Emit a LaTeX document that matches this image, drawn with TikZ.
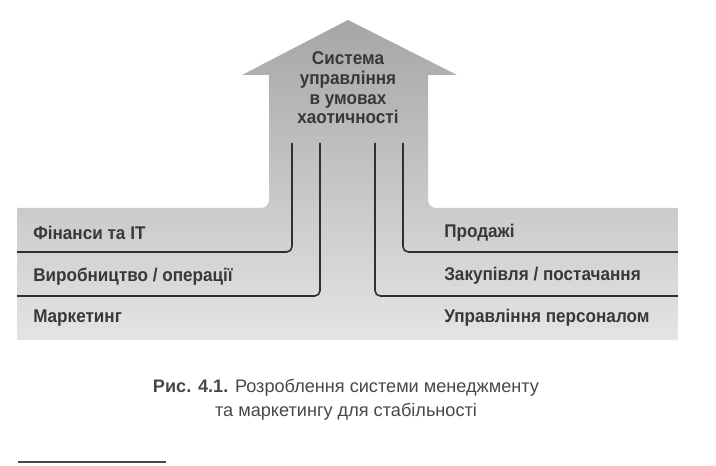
\documentclass[tikz,border=0pt]{standalone}
\usepackage{fontspec}
\newfontfamily\dfont[FakeStretch=0.93]{Liberation Sans}
\newfontfamily\cfont{Liberation Sans}
\usetikzlibrary{calc}
\definecolor{txt}{HTML}{383838}
\definecolor{capt}{HTML}{484848}
\definecolor{linec}{HTML}{303030}
\begin{document}
\begin{tikzpicture}[x=0.75pt,y=-0.75pt,
  lbl/.style={font=\dfont\bfseries\fontsize{13.8}{14.8}\selectfont, text=txt, inner sep=0pt},
  sep/.style={draw=linec, line width=1.2pt, rounded corners=4pt},
  capstyle/.style={font=\cfont\fontsize{13.6}{18}\selectfont, text=capt, align=center, inner sep=0pt}]
\useasboundingbox[fill=white] (0,0) rectangle (716,466);
% arrow + band shape
\shade[top color={rgb,255:red,166;green,166;blue,166}, bottom color={rgb,255:red,228;green,228;blue,228}]
  (17,340) -- (17,208) [rounded corners=6pt] -- (269,208) [sharp corners] -- (269,75) -- (242,75) -- (348,20) -- (457,75) -- (428,75)
  [rounded corners=6pt] -- (428,208) [sharp corners] -- (678,208) -- (678,340) -- cycle;
% title
\node[lbl, align=center] (title) at (348,88) {Система\\управління\\в умовах\\хаотичності};
% separator coordinates
\coordinate (lo1) at (292,143); \coordinate (lo2) at (17,252);
\coordinate (li1) at (320,143); \coordinate (li2) at (17,296);
\coordinate (ri1) at (375,143); \coordinate (ri2) at (678,296);
\coordinate (ro1) at (403,143); \coordinate (ro2) at (678,252);
\draw[sep] (lo1) |- (lo2);
\draw[sep] (li1) |- (li2);
\draw[sep] (ri1) |- (ri2);
\draw[sep] (ro1) |- (ro2);
% labels
\node[lbl, anchor=west] (fin) at (33,233) {Фінанси та IT};
\node[lbl, anchor=west] (vyr) at (33,277) {Виробництво / операції};
\node[lbl, anchor=west] (mark) at (33,318) {Маркетинг};
\node[lbl, anchor=west] (prod) at (444,233) {Продажі};
\node[lbl, anchor=west] (zak) at (444,276) {Закупівля / постачання};
\node[lbl, anchor=west] (upr) at (444,318) {Управління персоналом};
% caption
\node[capstyle] (cap) at (346,400) {{\bfseries Рис. 4.1.} Розроблення системи менеджменту\\та маркетингу для стабільності};
% footnote rule
\coordinate (fn1) at (18,462); \coordinate (fn2) at (166,462);
\draw[draw=capt, line width=1.1pt] (fn1) -- (fn2);
\end{tikzpicture}
\end{document}
